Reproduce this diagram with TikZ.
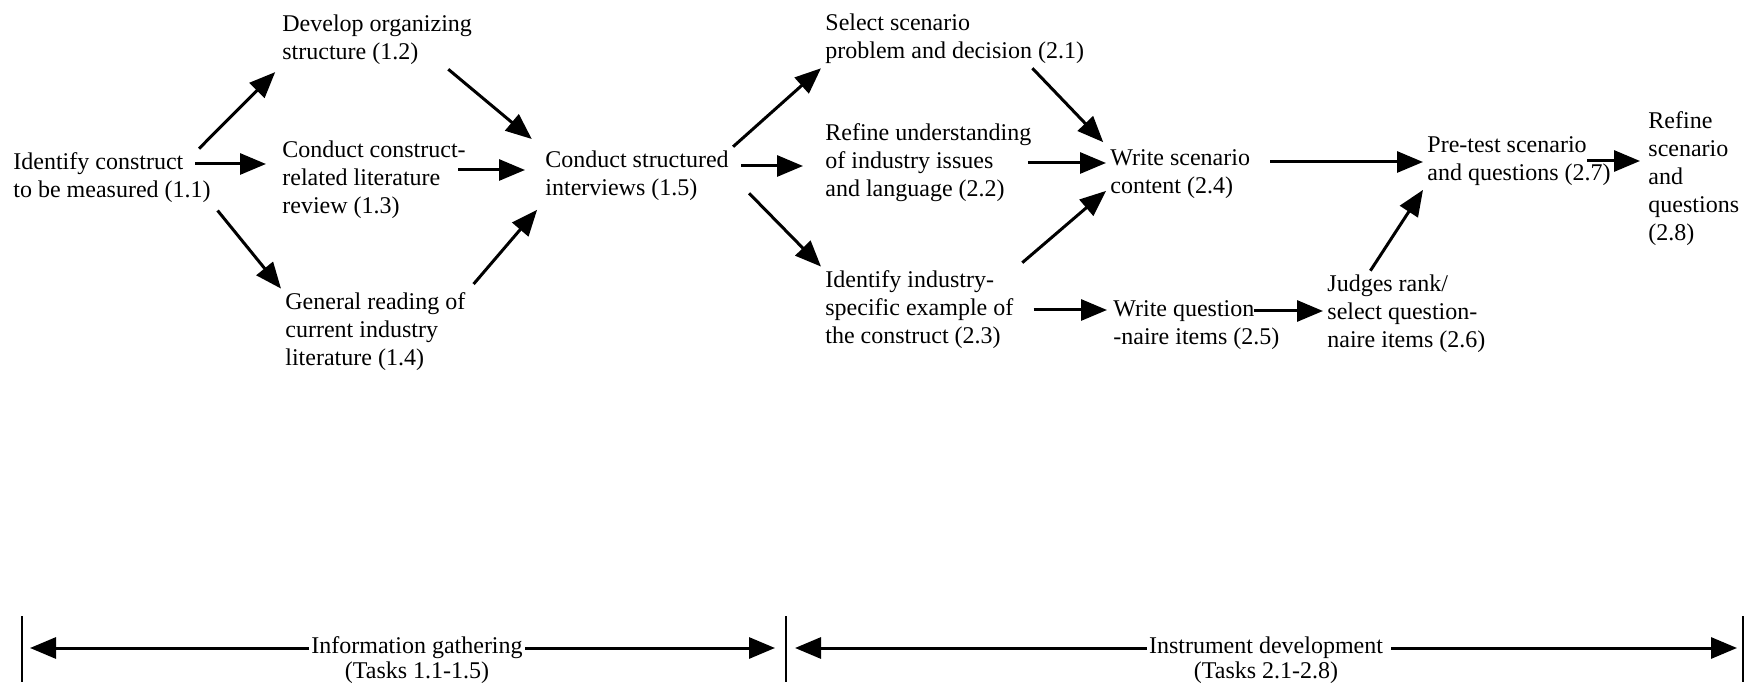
\documentclass[tikz,border=0pt]{standalone}
\usepackage{fontspec}
\setmainfont{Liberation Serif}
\usetikzlibrary{positioning, arrows.meta}

\begin{document}
\begin{tikzpicture}[
    x=0.5pt, y=-0.5pt,
    paso/.style={
        align=left,
        anchor=west,
        inner sep=2pt,
        font=\fontsize{12}{14}\selectfont,
    },
    fase/.style={paso, anchor=center, fill=white, inner sep=1pt},
    tareas/.style={paso, anchor=north, inner sep=1pt},
    flecha/.style={-{Triangle[length=13pt, width=10.5pt]}, line width=1.5pt},
    barra/.style={line width=1.2pt},
]
\useasboundingbox (0,0) rectangle (1750,694);

% recogida de informacion
\node[paso] (n11) at (   9, 178) {Identify construct\\to be measured (1.1)};
\node[paso] (n12) at ( 278,  40) {Develop organizing\\structure (1.2)};
\node[paso] (n13) at ( 278, 180) {Conduct construct-\\related literature\\review (1.3)};
\node[paso] (n14) at ( 281, 332) {General reading of\\current industry\\literature (1.4)};
\node[paso] (n15) at ( 541, 176) {Conduct structured\\interviews (1.5)};

% desarrollo del instrumento
\node[paso] (n21) at ( 821,  39) {Select scenario\\problem and decision (2.1)};
\node[paso] (n22) at ( 821, 163) {Refine understanding\\of industry issues\\and language (2.2)};
\node[paso] (n23) at ( 821, 310) {Identify industry-\\specific example of\\the construct (2.3)};
\node[paso] (n24) at (1106, 174) {Write scenario\\content (2.4)};
\node[paso] (n25) at (1109, 325) {Write question\\-naire items (2.5)};
\node[paso] (n26) at (1323, 314) {Judges rank/\\select question-\\naire items (2.6)};
\node[paso] (n27) at (1423, 161) {Pre-test scenario\\and questions (2.7)};
\node[paso] (n28) at (1644, 179) {Refine\\scenario\\and\\questions\\(2.8)};

\draw[flecha, shorten >=2pt] ([xshift=-8pt]n11.north east) -- (n12.south west);
\draw[flecha, shorten >=6pt] ([xshift=-10pt, yshift=7pt]n11.east) coordinate (p) -- (p -| n13.west);
\draw[flecha, shorten <=2pt] (n11.south east) -- (n14.north west);
\draw[flecha, shorten >=6pt] ([xshift=-14pt]n12.south east) -- (n15.north west);
\draw[flecha, shorten >=8pt] ([xshift=-6pt, yshift=5pt]n13.east) coordinate (p) -- (p -| n15.west);
\draw[flecha, shorten <=3pt, shorten >=3pt] (n14.north east) -- (n15.south west);

\draw[flecha] (n15.north east) -- (n21.south west);
\draw[flecha, shorten <=4pt, shorten >=9pt] ([yshift=5pt]n15.east) coordinate (p) -- (p -| n22.west);
\draw[flecha] ([xshift=8pt, yshift=6pt]n15.south east) -- (n23.north west);
\draw[flecha, shorten >=2pt] ([xshift=-28pt]n21.south east) -- (n24.north west);
\draw[flecha] ([xshift=-4pt]n22.east) coordinate (p) -- (p -| n24.west);
\draw[flecha, shorten <=3pt] (n23.north east) -- ([yshift=6pt]n24.south west);
\draw[flecha, shorten <=8pt, shorten >=1pt] (n23.east) coordinate (p) -- (p -| n25.west);
\draw[flecha, shorten <=8pt] ([yshift=6pt]n24.east) coordinate (p) -- (p -| n27.west);
\draw[flecha] ([xshift=-15pt, yshift=7pt]n25.east) coordinate (p) -- (p -| n26.west);
\draw[flecha] ([xshift=-18pt]n26.north) -- (n27.south west);
\draw[flecha, shorten >=2pt] ([xshift=-14pt]n27.east) coordinate (p) -- (p -| n28.west);

% fases
\coordinate (m0) at (  22, 648);
\coordinate (m1) at ( 786, 648);
\coordinate (m2) at (1743, 648);
\foreach \m in {m0, m1, m2}
    \draw[barra] ([yshift=16pt]\m) -- ([yshift=-17pt]\m);

\node[fase] (fase1) at ( 417, 648) {Information gathering};
\node[fase] (fase2) at (1266, 648) {Instrument development};
\node[tareas, below=-1pt of fase1] (tareas1) {(Tasks 1.1-1.5)};
\node[tareas, below=-1pt of fase2] (tareas2) {(Tasks 2.1-2.8)};

\draw[flecha, shorten >=4pt] (fase1.west) -- (m0);
\draw[flecha, shorten >=5.5pt] (fase1.east) -- (m1);
\draw[flecha, shorten >=4.5pt] (fase2.west) -- (m1);
\draw[flecha, shorten >=3pt] ([xshift=3pt]fase2.east) -- (m2);

\end{tikzpicture}
\end{document}
